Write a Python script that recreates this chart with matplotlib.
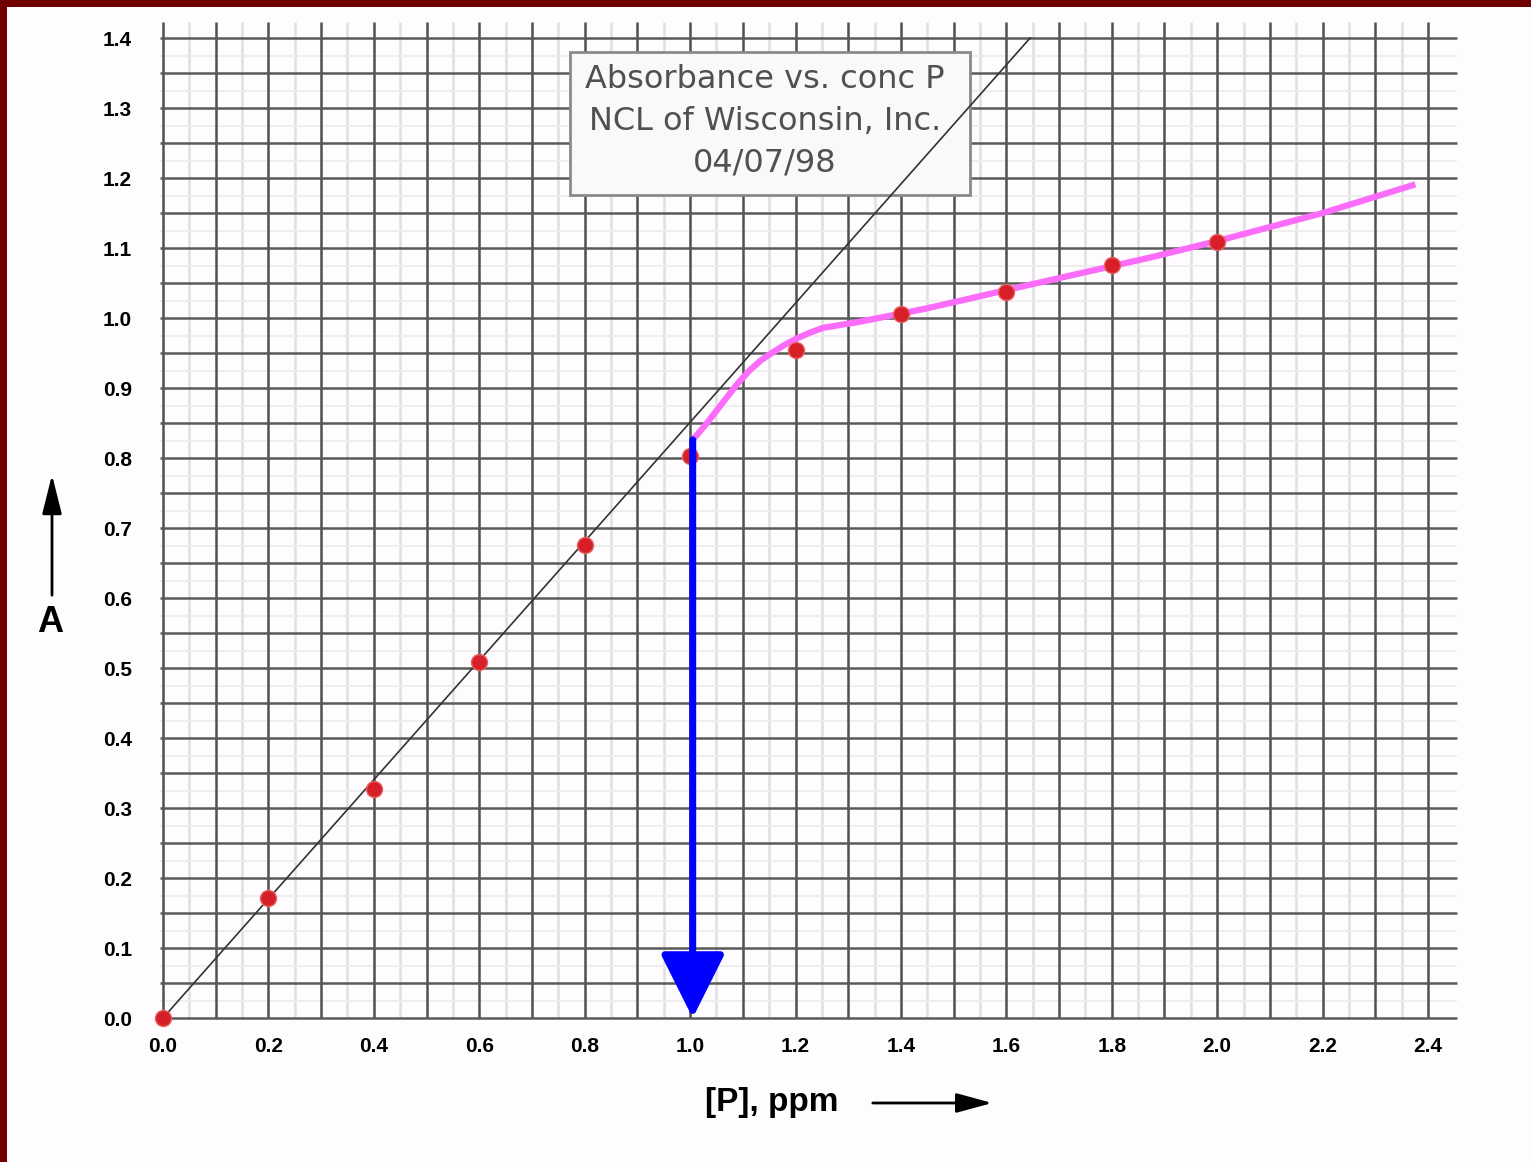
import numpy as np
import matplotlib
matplotlib.use('Agg')
import matplotlib.pyplot as plt
from matplotlib.patches import Rectangle, FancyArrowPatch

# measured points, absorbance vs [P]
conc = [0.0, 0.2, 0.4, 0.6, 0.8, 1.0, 1.2, 1.4, 1.6, 1.8, 2.0]
absorb = [0.00, 0.171, 0.327, 0.509, 0.676, 0.803, 0.954, 1.006, 1.037, 1.076, 1.109]

# thin black calibration line
fit_x = [0.0, 1.645]
fit_y = [0.0, 1.400]

# magenta hand-drawn curve
curve_x = [1.005, 1.031, 1.07, 1.092, 1.114, 1.135, 1.157, 1.18, 1.203, 1.227, 1.252,
           1.284, 1.317, 1.357, 1.398, 1.45, 1.52, 1.6, 1.876, 2.0, 2.2, 2.376]
curve_y = [0.826, 0.849, 0.887, 0.908, 0.926, 0.940, 0.951, 0.962, 0.971, 0.979, 0.986,
           0.990, 0.994, 1.000, 1.006, 1.014, 1.026, 1.040, 1.087, 1.110, 1.150, 1.191]

# blue drop line
drop_x = 1.005
drop_top = 0.826
drop_bottom = 0.0

xticks = [0.0, 0.2, 0.4, 0.6, 0.8, 1.0, 1.2, 1.4, 1.6, 1.8, 2.0, 2.2, 2.4]
xlabels = ['0.0', '0.2', '0.4', '0.6', '0.8', '1.0', '1.2', '1.4', '1.6', '1.8', '2.0', '2.2', '2.4']
yticks = [0.0, 0.1, 0.2, 0.3, 0.4, 0.5, 0.6, 0.7, 0.8, 0.9, 1.0, 1.1, 1.2, 1.3, 1.4]
ylabels = ['0.0', '0.1', '0.2', '0.3', '0.4', '0.5', '0.6', '0.7', '0.8', '0.9', '1.0', '1.1', '1.2', '1.3', '1.4']

box_lines = ['Absorbance vs. conc P', 'NCL of Wisconsin, Inc.', '04/07/98']
box_line_y = [1.341, 1.281, 1.222]

W, H = 1531, 1162
fig = plt.figure(figsize=(W / 100, H / 100), dpi=100)
fig.patch.set_facecolor('#fefcfe')

ax = fig.add_axes([160 / W, 1 - 1022 / H, 1300 / W, 1002 / H])
ax.set_xlim(-0.0057, 2.4607)
ax.set_ylim(-0.0057, 1.4258)
ax.set_facecolor('none')
for s in ax.spines.values():
    s.set_visible(False)

# graph paper
minor_x = np.arange(0.05, 2.41, 0.1)
ax.vlines(minor_x, 0, 1.423, colors='#e0e0e0', lw=1.8, zorder=1)
minor_y = np.arange(0.025, 1.41, 0.05)
ax.hlines(minor_y, -0.0057, 2.455, colors='#eeeeee', lw=1.4, zorder=1)
major_x = np.arange(0, 24.5) / 10
ax.vlines(major_x, 0, 1.423, colors='#505050', lw=1.8, zorder=2)
major_y = np.arange(0, 28.5) * 0.05
ax.hlines(major_y, -0.0057, 2.455, colors='#5a5a5a', lw=1.8, zorder=2)

# label box
bx0, bx1, by0, by1 = 0.772, 1.531, 1.176, 1.380
ax.add_patch(Rectangle((bx0, by0), bx1 - bx0, by1 - by0, facecolor='#f9f9f9',
                       edgecolor='#8a8a8a', lw=2, zorder=3))
for line, yy in zip(box_lines, box_line_y):
    ax.text((bx0 + bx1) / 2 - 0.01, yy, line, ha='center', va='center', fontsize=23,
            color='#505050', family='DejaVu Sans', zorder=4)

ax.plot(fit_x, fit_y, color='#333333', lw=1.2, zorder=5)
ax.plot(curve_x, curve_y, color='#fb6cfb', lw=4.5, solid_capstyle='butt',
        solid_joinstyle='round', zorder=6)
ax.plot(conc, absorb, 'o', color='#d61f26', ms=11.5, mec='#e86060', mew=1, zorder=7,
        clip_on=False)

ax.annotate('', xy=(drop_x, drop_bottom), xytext=(drop_x, drop_top),
            arrowprops=dict(arrowstyle='-|>,head_length=40,head_width=20', mutation_scale=1,
                            lw=5, color='#0000ff', shrinkA=0, shrinkB=0), zorder=8)

ax.set_xticks(xticks)
ax.set_xticklabels(xlabels)
ax.set_yticks(yticks)
ax.set_yticklabels(ylabels)
ax.tick_params(length=0, labelsize=15)
ax.tick_params(axis='x', pad=11)
ax.tick_params(axis='y', pad=20)
for t in ax.get_xticklabels() + ax.get_yticklabels():
    t.set_family('Liberation Sans')
    t.set_fontweight('bold')

# axis titles with arrows (figure pixel coords)
fig.text(772 / W, 1 - 1102 / H, '[P], ppm', ha='center', va='center', fontsize=24,
         fontweight='bold', family='Liberation Sans')
fig.add_artist(FancyArrowPatch(
    (870 / W, 1 - 1103 / H), (995 / W, 1 - 1103 / H), transform=fig.transFigure,
    arrowstyle='-|>,head_length=22,head_width=6', mutation_scale=1, lw=2, color='black'))
fig.text(50 / W, 1 - 623 / H, 'A', ha='center', va='center', fontsize=26,
         fontweight='bold', family='Liberation Sans')
fig.add_artist(FancyArrowPatch(
    (52 / W, 1 - 598 / H), (52 / W, 1 - 472 / H), transform=fig.transFigure,
    arrowstyle='-|>,head_length=24,head_width=6', mutation_scale=1, lw=2, color='black'))

# dark red slide border
fig.add_artist(Rectangle((0, 1 - 7 / H), 1, 7 / H, transform=fig.transFigure,
                         facecolor='#700000', edgecolor='none'))
fig.add_artist(Rectangle((0, 0), 7 / W, 1, transform=fig.transFigure,
                         facecolor='#700000', edgecolor='none'))

fig.savefig('out.png', dpi=100, facecolor=fig.get_facecolor())
